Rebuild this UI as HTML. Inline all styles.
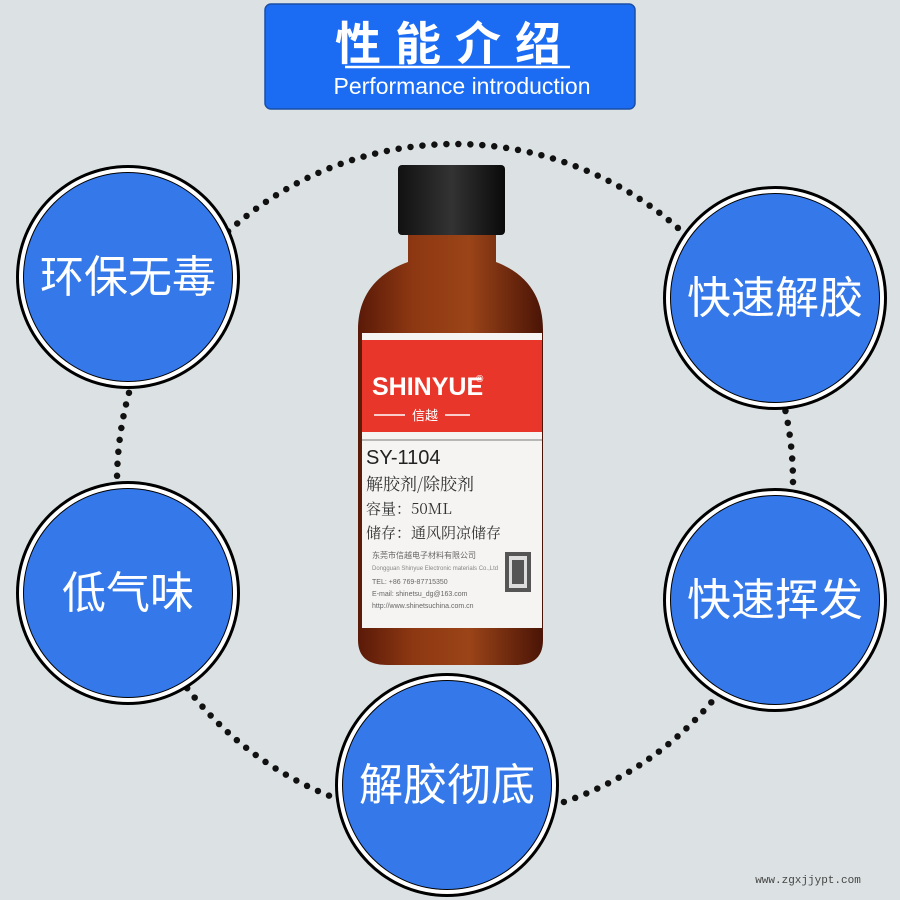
<!DOCTYPE html>
<html><head><meta charset="utf-8"><style>
html,body{margin:0;padding:0;background:#dce2e3;}
body{width:900px;height:900px;overflow:hidden;position:relative;font-family:"Liberation Sans","Noto Sans CJK SC",sans-serif;}
</style></head><body>
<svg width="900" height="900" viewBox="0 0 900 900" xmlns="http://www.w3.org/2000/svg" style="position:absolute;left:0;top:0">
<rect width="900" height="900" fill="#dce2e3"/>
<!-- dotted ring -->
<circle cx="455" cy="482" r="338" fill="none" stroke="#111" stroke-width="6.5" stroke-linecap="round" stroke-dasharray="0 12"/>
<!-- header -->
<rect x="265" y="4" width="370" height="105" rx="6" fill="#1b6cf2" stroke="#1a4fa8" stroke-width="1.5"/>
<text x="455" y="60" text-anchor="middle" font-size="46" font-weight="bold" fill="#fff" font-family="Noto Sans CJK SC, sans-serif" letter-spacing="14">性能介绍</text>
<line x1="345" y1="67" x2="570" y2="67" stroke="#fff" stroke-width="2.5"/>
<text x="462" y="94" text-anchor="middle" font-size="23" fill="#fff">Performance introduction</text>
<!-- bottle -->
<defs>
<linearGradient id="g" x1="0" x2="1">
<stop offset="0" stop-color="#5a1a08"/><stop offset="0.3" stop-color="#8e3812"/><stop offset="0.6" stop-color="#9b4418"/><stop offset="1" stop-color="#4a1406"/>
</linearGradient>
<linearGradient id="c" x1="0" x2="1">
<stop offset="0" stop-color="#111"/><stop offset="0.5" stop-color="#333"/><stop offset="1" stop-color="#0a0a0a"/>
</linearGradient>
</defs>
<rect x="398" y="165" width="107" height="70" rx="4" fill="url(#c)"/>
<path d="M408 235 L496 235 L496 262 C530 275 543 300 543 330 L543 640 C543 660 530 665 515 665 L388 665 C372 665 358 660 358 640 L358 330 C358 300 372 275 408 262 Z" fill="url(#g)"/>
<rect x="362" y="333" width="180" height="295" fill="#f6f4f2"/>
<rect x="362" y="340" width="180" height="92" fill="#e8372a"/>
<text x="372" y="395" font-size="25" font-weight="bold" fill="#fff">SHINYUE</text>
<text x="476" y="382" font-size="10" fill="#fff">®</text>
<line x1="374" y1="415" x2="405" y2="415" stroke="#fff" stroke-width="1.5"/>
<text x="425" y="420" text-anchor="middle" font-size="13" fill="#fff" font-family="Noto Sans CJK SC, sans-serif">信越</text>
<line x1="445" y1="415" x2="470" y2="415" stroke="#fff" stroke-width="1.5"/>
<line x1="362" y1="440" x2="542" y2="440" stroke="#777" stroke-width="1"/>
<text x="366" y="464" font-size="20" fill="#222">SY-1104</text>
<text x="366" y="490" font-size="17" fill="#333" font-family="Noto Serif CJK SC, serif">解胶剂/除胶剂</text>
<text x="366" y="514" font-size="15" fill="#333" font-family="Noto Serif CJK SC, serif">容量：50ML</text>
<text x="366" y="538" font-size="15" fill="#333" font-family="Noto Serif CJK SC, serif">储存：通风阴凉储存</text>
<text x="372" y="558" font-size="8" fill="#666" font-family="Noto Sans CJK SC, sans-serif">东莞市信越电子材料有限公司</text>
<text x="372" y="570" font-size="6" fill="#888">Dongguan Shinyue Electronic materials Co.,Ltd</text>
<text x="372" y="584" font-size="7" fill="#666">TEL: +86 769-87715350</text>
<text x="372" y="596" font-size="7" fill="#666">E-mail: shinetsu_dg@163.com</text>
<text x="372" y="608" font-size="7" fill="#666">http://www.shinetsuchina.com.cn</text>
<rect x="505" y="552" width="26" height="40" fill="#555"/>
<rect x="509" y="556" width="18" height="32" fill="#ddd"/>
<rect x="512" y="560" width="12" height="24" fill="#555"/>
<!-- circles -->
<g font-family="Noto Sans CJK SC, sans-serif" font-size="44" fill="#fff" text-anchor="middle">
<g transform="translate(128,277)"><circle r="112" fill="#000"/><circle r="109" fill="#fff"/><circle r="105" fill="#000"/><circle r="104" fill="#3478ea"/><text y="15">环保无毒</text></g>
<g transform="translate(775,298)"><circle r="112" fill="#000"/><circle r="109" fill="#fff"/><circle r="105" fill="#000"/><circle r="104" fill="#3478ea"/><text y="15">快速解胶</text></g>
<g transform="translate(128,593)"><circle r="112" fill="#000"/><circle r="109" fill="#fff"/><circle r="105" fill="#000"/><circle r="104" fill="#3478ea"/><text y="15">低气味</text></g>
<g transform="translate(775,600)"><circle r="112" fill="#000"/><circle r="109" fill="#fff"/><circle r="105" fill="#000"/><circle r="104" fill="#3478ea"/><text y="15">快速挥发</text></g>
<g transform="translate(447,785)"><circle r="112" fill="#000"/><circle r="109" fill="#fff"/><circle r="105" fill="#000"/><circle r="104" fill="#3478ea"/><text y="15">解胶彻底</text></g>
</g>
<text x="808" y="883" text-anchor="middle" font-size="11" fill="#444" font-family="Liberation Mono, monospace">www.zgxjjypt.com</text>
</svg>
</body></html>
